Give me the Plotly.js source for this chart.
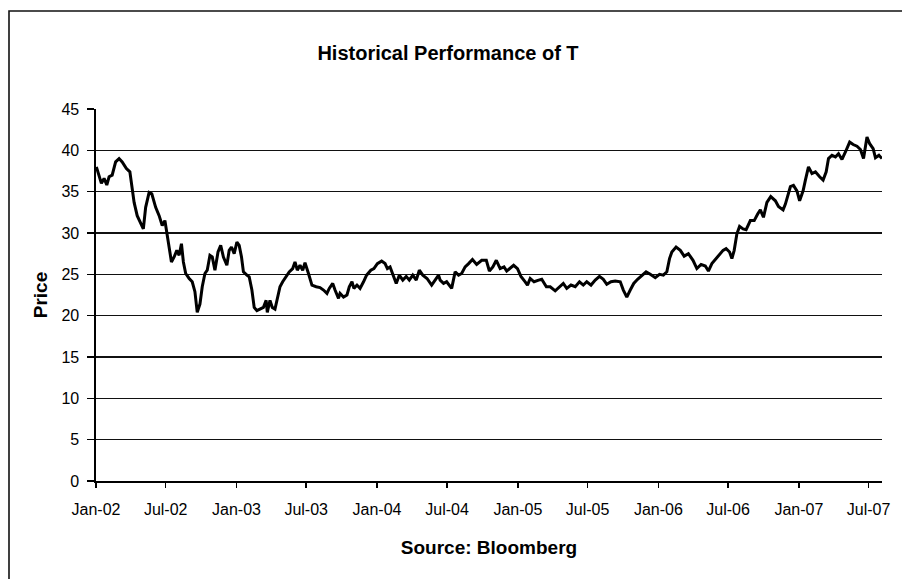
<!DOCTYPE html>
<html>
<head>
<meta charset="utf-8">
<script src="https://cdn.plot.ly/plotly-3.0.1.min.js"></script>
<style>
  html, body { margin: 0; padding: 0; background: #fff; }
  #chart { width: 902px; height: 579px; }
</style>
</head>
<body>
<div id="chart"></div>
<script>
const dates = [
"2002-01-02","2002-01-09","2002-01-15","2002-01-22","2002-01-29","2002-02-04","2002-02-12","2002-02-21","2002-03-02","2002-03-10",
"2002-03-21","2002-03-30","2002-04-05","2002-04-10","2002-04-18","2002-04-27","2002-05-04","2002-05-10","2002-05-19","2002-05-26",
"2002-06-05","2002-06-14","2002-06-22","2002-06-29","2002-07-05","2002-07-10","2002-07-16","2002-07-23","2002-07-30","2002-08-05",
"2002-08-11","2002-08-16","2002-08-22","2002-08-31","2002-09-08","2002-09-15","2002-09-21","2002-09-28","2002-10-04","2002-10-11",
"2002-10-17","2002-10-24","2002-10-30","2002-11-06","2002-11-14","2002-11-21","2002-11-28","2002-12-07","2002-12-13","2002-12-19",
"2002-12-26","2003-01-02","2003-01-08","2003-01-14","2003-01-19","2003-01-28","2003-02-03","2003-02-10","2003-02-16","2003-02-23",
"2003-03-03","2003-03-12","2003-03-19","2003-03-22","2003-03-29","2003-04-04","2003-04-11","2003-04-17","2003-04-24","2003-05-01",
"2003-05-10","2003-05-18","2003-05-27","2003-06-02","2003-06-08","2003-06-15","2003-06-22","2003-06-28","2003-07-07","2003-07-16",
"2003-07-27","2003-08-06","2003-08-15","2003-08-24","2003-08-30","2003-09-08","2003-09-14","2003-09-23","2003-09-27","2003-10-06",
"2003-10-15","2003-10-21","2003-10-28","2003-11-02","2003-11-10","2003-11-18","2003-11-27","2003-12-05","2003-12-16","2003-12-24",
"2004-01-02","2004-01-13","2004-01-22","2004-01-28","2004-02-04","2004-02-11","2004-02-20","2004-02-28","2004-03-08","2004-03-17",
"2004-03-25","2004-04-03","2004-04-12","2004-04-20","2004-04-29","2004-05-10","2004-05-22","2004-05-31","2004-06-09","2004-06-13",
"2004-06-22","2004-06-30","2004-07-13","2004-07-22","2004-07-31","2004-08-08","2004-08-17","2004-08-26","2004-09-05","2004-09-16",
"2004-09-29","2004-10-11","2004-10-19","2004-10-28","2004-11-06","2004-11-16","2004-11-26","2004-12-03","2004-12-12","2004-12-21",
"2004-12-31","2005-01-09","2005-01-20","2005-01-26","2005-02-02","2005-02-12","2005-02-24","2005-03-04","2005-03-16","2005-03-26",
"2005-04-08","2005-04-19","2005-04-29","2005-05-08","2005-05-19","2005-05-30","2005-06-10","2005-06-20","2005-06-29","2005-07-10",
"2005-07-21","2005-08-01","2005-08-11","2005-08-20","2005-08-31","2005-09-11","2005-09-24","2005-10-02","2005-10-11","2005-10-20",
"2005-10-29","2005-11-08","2005-11-19","2005-11-30","2005-12-11","2005-12-24","2006-01-04","2006-01-14","2006-01-23","2006-01-30",
"2006-02-05","2006-02-16","2006-02-27","2006-03-09","2006-03-20","2006-04-01","2006-04-11","2006-04-22","2006-05-03","2006-05-11",
"2006-05-20","2006-05-29","2006-06-09","2006-06-18","2006-06-26","2006-07-05","2006-07-11","2006-07-17","2006-07-24","2006-07-31",
"2006-08-09","2006-08-17","2006-08-28","2006-09-07","2006-09-16","2006-09-23","2006-10-01","2006-10-10","2006-10-20","2006-11-01",
"2006-11-09","2006-11-21","2006-11-27","2006-12-03","2006-12-10","2006-12-18","2006-12-27","2007-01-03","2007-01-12","2007-01-18",
"2007-01-26","2007-02-04","2007-02-13","2007-02-24","2007-03-05","2007-03-13","2007-03-19","2007-03-28","2007-04-06","2007-04-14",
"2007-04-23","2007-05-02","2007-05-13","2007-05-22","2007-06-01","2007-06-10","2007-06-18","2007-06-27","2007-07-04","2007-07-13",
"2007-07-19","2007-07-28","2007-08-05"
];
const prices = [
38.0,37.0,36.0,36.6,35.8,36.8,37.0,38.6,39.0,38.6,
37.8,37.4,35.6,33.7,32.1,31.1,30.5,33.1,34.9,34.75,
33.1,32.1,30.9,31.5,29.9,28.3,26.5,27.1,27.9,27.3,
28.7,26.5,25.1,24.5,24.1,22.9,20.4,21.4,23.5,25.1,
25.5,27.3,27.1,25.5,27.7,28.5,27.1,26.1,27.9,28.3,
27.5,28.9,28.5,27.1,25.3,24.9,24.7,23.1,21.0,20.6,
20.8,21.0,21.85,20.4,21.85,21.0,20.8,22.1,23.5,24.1,
24.7,25.3,25.7,26.5,25.5,26.1,25.5,26.4,25.1,23.7,
23.5,23.4,23.1,22.7,23.3,23.9,23.1,22.1,22.7,22.25,
22.5,23.5,24.1,23.3,23.7,23.3,24.1,24.9,25.5,25.7,
26.3,26.6,26.3,25.7,25.9,24.9,23.9,24.9,24.3,24.75,
24.3,24.9,24.3,25.5,24.9,24.5,23.7,24.3,24.9,24.3,
23.9,24.1,23.3,25.3,24.9,25.1,25.9,26.3,26.8,26.2,
26.7,26.7,25.4,25.9,26.7,25.7,25.9,25.4,25.7,26.1,
25.7,24.75,24.1,23.7,24.5,24.1,24.3,24.4,23.5,23.5,
23.0,23.5,23.9,23.3,23.7,23.5,24.1,23.7,24.1,23.7,
24.3,24.75,24.4,23.8,24.1,24.2,24.1,23.1,22.25,23.1,
23.9,24.4,24.9,25.3,25.0,24.6,25.0,24.9,25.3,26.9,
27.7,28.3,27.9,27.2,27.5,26.7,25.7,26.2,26.0,25.4,
26.3,26.8,27.5,27.9,28.1,27.7,26.9,27.9,29.9,30.8,
30.5,30.4,31.5,31.5,32.3,32.8,31.9,33.7,34.4,33.9,
33.2,32.8,33.5,34.5,35.6,35.75,35.1,33.9,35.1,36.4,
38.0,37.2,37.4,36.8,36.4,37.4,39.0,39.4,39.2,39.6,
38.9,39.8,41.0,40.7,40.5,40.1,39.0,41.6,40.8,40.2,
39.1,39.4,39.0
];
const tickDates = ["2002-01-01","2002-07-01","2003-01-01","2003-07-01","2004-01-01","2004-07-01",
                   "2005-01-01","2005-07-01","2006-01-01","2006-07-01","2007-01-01","2007-07-01"];
const tickLabels = ["Jan-02","Jul-02","Jan-03","Jul-03","Jan-04","Jul-04",
                    "Jan-05","Jul-05","Jan-06","Jul-06","Jan-07","Jul-07"];
const yTicks = [0,5,10,15,20,25,30,35,40,45];

const FONT = "Liberation Sans, Arial, Helvetica, sans-serif";

const trace = {
  x: dates, y: prices, type: "scatter", mode: "lines",
  line: {color: "#000000", width: 3}, hoverinfo: "x+y"
};

const layout = {
  width: 902, height: 579,
  margin: {l: 96, r: 20, t: 109, b: 98},
  paper_bgcolor: "#ffffff", plot_bgcolor: "#ffffff",
  showlegend: false,
  font: {family: FONT, color: "#000000", size: 16},
  title: {
    text: "<b>Historical Performance of T</b>",
    font: {family: FONT, size: 20, color: "#000000"},
    x: 448/902, xref: "container", xanchor: "center",
    y: 1 - 52.5/579, yref: "container", yanchor: "middle"
  },
  xaxis: {
    type: "date",
    range: ["2002-01-01", "2007-08-05"],
    tickmode: "array", tickvals: tickDates, ticktext: tickLabels,
    showgrid: false, zeroline: false,
    showline: true, linecolor: "#000000", linewidth: 1.6,
    ticks: "outside", ticklen: 5, tickwidth: 1.6, tickcolor: "#000000",
    ticklabelstandoff: 8,
    tickfont: {family: FONT, size: 16, color: "#000000"},
    title: {text: "<b>Source: Bloomberg</b>", font: {family: FONT, size: 19, color: "#000000"}, standoff: 24},
    automargin: false, fixedrange: true
  },
  yaxis: {
    range: [0, 45],
    tickmode: "array", tickvals: yTicks,
    showgrid: true, gridcolor: "#111111", gridwidth: 1.6,
    zeroline: false,
    showline: true, linecolor: "#000000", linewidth: 1.6,
    ticks: "outside", ticklen: 7, tickwidth: 1.6, tickcolor: "#000000",
    ticklabelstandoff: 5,
    tickfont: {family: FONT, size: 16, color: "#000000"},
    title: {text: "<b>Price</b>", font: {family: FONT, size: 19, color: "#000000"}, standoff: 9},
    automargin: false, fixedrange: true
  },
  shapes: [{
    type: "rect", xref: "paper", yref: "paper",
    x0: (9-96)/786, x1: (906-96)/786,
    y0: (481-590)/372, y1: (481-11)/372,
    line: {color: "#111111", width: 1.6}, fillcolor: "rgba(0,0,0,0)", layer: "below"
  }]
};

Plotly.newPlot("chart", [trace], layout, {displayModeBar: false, staticPlot: true});
</script>
</body>
</html>
